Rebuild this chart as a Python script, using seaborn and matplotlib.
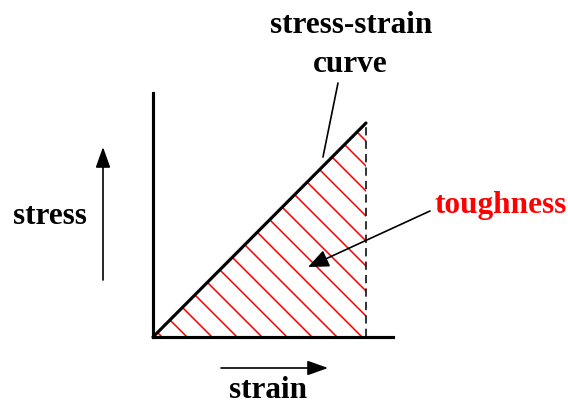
import matplotlib
matplotlib.use("Agg")
import matplotlib.pyplot as plt
import numpy as np
import pandas as pd
import seaborn as sns

# linear elastic loading, normalised units
strain = [0.0, 1.0]
stress = [0.0, 1.0]
labels = {"curve": "stress-strain\ncurve", "area": "toughness",
          "x": "strain", "y": "stress"}

W, H, DPI = 568, 405, 150

sns.set_style("white")
plt.rcParams["font.family"] = ["Liberation Serif", "DejaVu Serif"]
plt.rcParams["text.color"] = "black"
plt.rcParams["hatch.linewidth"] = 0.75


def fx(px):
    return px / W


def fy(py):
    return 1 - py / H


df = pd.DataFrame({"strain": strain, "stress": stress})

fig = plt.figure(figsize=(W / DPI, H / DPI), dpi=DPI)
ax = fig.add_axes([fx(153), fy(337), (393 - 153) / W, (337 - 93) / H])

# hatched area under the curve = toughness
ax.fill_between(df["strain"], 0, df["stress"], facecolor="none",
                edgecolor="red", hatch="\\\\", linewidth=0)
sns.lineplot(data=df, x="strain", y="stress", color="black", lw=1.5,
             ax=ax, clip_on=False)
ax.vlines(df["strain"].iloc[-1], 0, df["stress"].iloc[-1], colors="black",
          linestyles=(0, (5.3, 3.3)), lw=0.75)

ax.set_xlim(0, 240 / 213)
ax.set_ylim(0, 244 / 214)
ax.set_xticks([])
ax.set_yticks([])
ax.set_xlabel("")
ax.set_ylabel("")
sns.despine(ax=ax)
for s in ("left", "bottom"):
    ax.spines[s].set_linewidth(1.5)
    ax.spines[s].set_color("black")

tkw = dict(fontsize=15, fontweight="bold", ha="center", va="baseline")
fig.text(fx(351), fy(33), "stress-strain", **tkw)
fig.text(fx(350), fy(72), "curve", **tkw)
fig.text(fx(501), fy(213), labels["area"], color="red", **tkw)
fig.text(fx(50), fy(224), labels["y"], **tkw)
fig.text(fx(268), fy(398), labels["x"], **tkw)

# pointer to the curve
ax.annotate("", xy=(0.798, 0.841), xycoords="data",
            xytext=(fx(338), fy(83)), textcoords="figure fraction",
            arrowprops=dict(arrowstyle="-", color="black", lw=0.8,
                            shrinkA=0, shrinkB=0))
# pointer to the toughness area
ax.annotate("", xy=(0.728, 0.327), xycoords="data",
            xytext=(fx(430), fy(211)), textcoords="figure fraction",
            arrowprops=dict(arrowstyle="-|>,head_length=0.7,head_width=0.3",
                            color="black", lw=0.8, mutation_scale=12,
                            shrinkA=0, shrinkB=0))

# direction arrows for stress and strain
arr = dict(arrowstyle="-|>,head_length=0.7,head_width=0.25", color="black",
           lw=0.8, mutation_scale=12, shrinkA=0, shrinkB=0)
fig.add_artist(matplotlib.patches.FancyArrowPatch(
    (fx(103), fy(280)), (fx(103), fy(147)), transform=fig.transFigure, **arr))
fig.add_artist(matplotlib.patches.FancyArrowPatch(
    (fx(221), fy(368)), (fx(328), fy(368)), transform=fig.transFigure, **arr))

fig.savefig("out.png", dpi=DPI)
